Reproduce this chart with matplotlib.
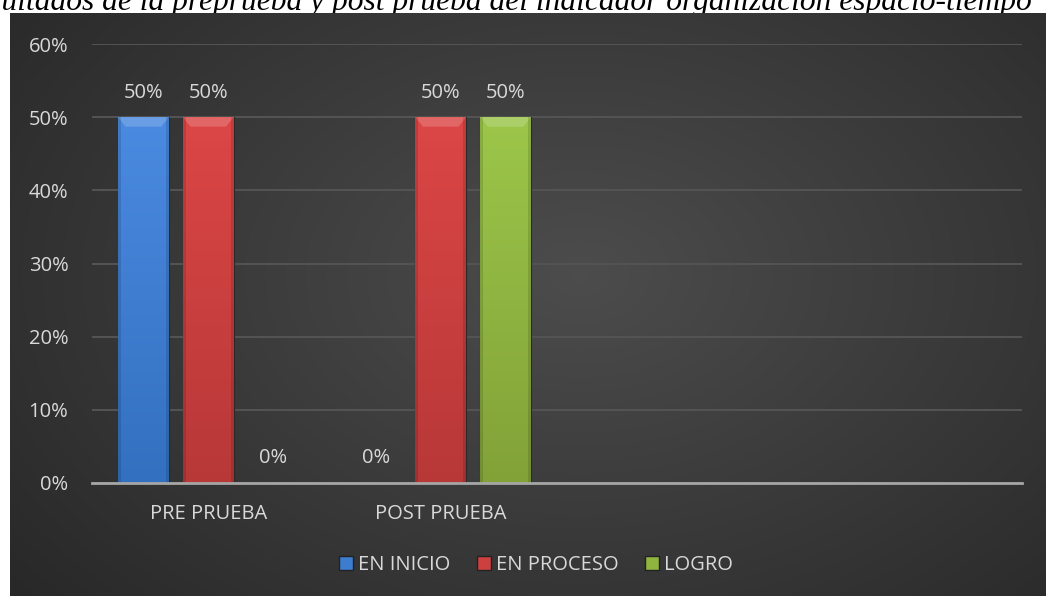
import numpy as np
import matplotlib
matplotlib.use("Agg")
import matplotlib.pyplot as plt
from matplotlib.patches import Patch
from matplotlib.ticker import PercentFormatter

# ---- data ----
categories = ["PRE PRUEBA", "POST PRUEBA", "", ""]
series_names = ["EN INICIO", "EN PROCESO", "LOGRO"]
en_inicio = [0.50, 0.0, None, None]
en_proceso = [0.50, 0.50, None, None]
logro = [0.0, 0.50, None, None]
yticks = [0, 0.1, 0.2, 0.3, 0.4, 0.5, 0.6]
title = "Resultados de la preprueba y post prueba del indicador organización espacio-tiempo"

colors_top = ["#4a8ae0", "#dc4646", "#9cc64a"]
colors_bot = ["#3370c0", "#b83838", "#82a238"]
colors_mid = ["#3d7dd0", "#cc4040", "#8fb440"]

W, H = 1046, 596
fig = plt.figure(figsize=(W / 100, H / 100), dpi=100)
fig.patch.set_facecolor("white")

# title (partly cut off at left/top and under chart area)
serif_fam = ["Liberation Serif", "DejaVu Serif"]
renderer = fig.canvas.get_renderer()
tkw = dict(fontstyle="italic", family=serif_fam, fontsize=10)
t_full = fig.text(0, 0, title, **tkw)
t_pre = fig.text(0, 0, "Res", **tkw)
w_full = t_full.get_window_extent(renderer).width
w_pre = t_pre.get_window_extent(renderer).width
t_full.remove()
t_pre.remove()
tsize = 10 * 1032 / (w_full - w_pre * 1.05)
fig.text(1032 / W, 1 - 10 / H, title, ha="right", va="baseline",
         fontsize=tsize, fontstyle="italic",
         family=serif_fam, color="black", zorder=-5)

# background chart area with radial gradient
bg = fig.add_axes([10 / W, 0, 1 - 10 / W, (H - 13) / H], zorder=0)
bg.set_axis_off()
yy, xx = np.mgrid[0:1:300j, 0:1:500j]
r = np.sqrt(((xx - 0.55) / 0.75) ** 2 + ((yy - 0.45) / 0.9) ** 2)
val = 0.30 - 0.15 * np.clip(r, 0, 1)
img = np.dstack([val, val, val])
bg.imshow(img, aspect="auto", extent=[0, 1, 0, 1], interpolation="bilinear")
bg.set_xlim(0, 1)
bg.set_ylim(0, 1)

ax = fig.add_axes([92 / W, (H - 483) / H, 930 / W, 439 / H], zorder=1)
ax.patch.set_alpha(0)

x = np.arange(len(categories))
bw = 51 / 233
step = 65 / 233
all_series = [en_inicio, en_proceso, logro]
for i, (name, s) in enumerate(zip(series_names, all_series)):
    vals = [np.nan if v is None else v for v in s]
    pos = x + (i - 1) * step
    bars = ax.bar(pos, vals, width=bw, color=colors_mid[i], edgecolor="#2a2a2a",
                  linewidth=0.8, zorder=3, label=name)
    for b, v in zip(bars, vals):
        if np.isnan(v):
            continue
        if v > 0:
            x0, y0 = b.get_x(), b.get_y()
            w, h = b.get_width(), b.get_height()
            grad = np.linspace(0, 1, 100)[:, None]
            c1 = np.array(matplotlib.colors.to_rgb(colors_bot[i]))
            c2 = np.array(matplotlib.colors.to_rgb(colors_top[i]))
            gimg = c1[None, None, :] * (1 - grad[..., None]) + c2[None, None, :] * grad[..., None]
            gimg = np.repeat(gimg, 2, axis=1)
            im = ax.imshow(gimg, extent=[x0, x0 + w, y0, y0 + h], origin="lower",
                           aspect="auto", zorder=3.5, interpolation="bilinear")
            im.set_clip_path(b)
            # top bevel highlight
            ax.fill([x0, x0 + w, x0 + w * 0.85, x0 + w * 0.15],
                    [y0 + h, y0 + h, y0 + h - 0.013, y0 + h - 0.013],
                    color="white", alpha=0.18, zorder=4, lw=0)
            # darker side edges
            ax.fill([x0, x0 + w * 0.06, x0 + w * 0.06, x0],
                    [y0, y0, y0 + h, y0 + h], color="black", alpha=0.12, zorder=4, lw=0)
            ax.fill([x0 + w * 0.94, x0 + w, x0 + w, x0 + w * 0.94],
                    [y0, y0, y0 + h, y0 + h], color="black", alpha=0.12, zorder=4, lw=0)
        ax.text(b.get_x() + b.get_width() / 2, v + 0.02, f"{v:.0%}",
                ha="center", va="bottom", color="#d9d9d9", fontsize=14.5,
                family="Open Sans", zorder=5)

ax.set_xlim(-0.5, len(categories) - 0.5)
ax.set_ylim(0, 0.6)
ax.set_yticks(yticks)
ax.yaxis.set_major_formatter(PercentFormatter(1.0, decimals=0))
ax.set_xticks(x)
ax.set_xticklabels(categories)
ax.tick_params(axis="both", length=0, colors="#d9d9d9", labelsize=14.5)
ax.tick_params(axis="y", pad=17)
ax.tick_params(axis="x", pad=15)
for lab in ax.get_xticklabels() + ax.get_yticklabels():
    lab.set_family("Open Sans")
ax.grid(axis="y", color="#545454", linewidth=1.4, zorder=0)
ax.set_axisbelow(True)
for sp in ["top", "right", "left"]:
    ax.spines[sp].set_visible(False)
ax.spines["bottom"].set_color("#a6a6a6")
ax.spines["bottom"].set_linewidth(2)
ax.spines["bottom"].set_zorder(6)

handles = [Patch(facecolor=colors_mid[i], edgecolor="#222222", label=series_names[i])
           for i in range(3)]
leg = fig.legend(handles=handles, loc="center", bbox_to_anchor=(536 / W, 1 - 565 / H),
                 ncol=3, frameon=False, handlelength=0.72, handleheight=0.72,
                 handletextpad=0.25, columnspacing=1.3,
                 prop={"family": "Open Sans", "size": 14.5})
for t in leg.get_texts():
    t.set_color("#d9d9d9")

fig.savefig("out.png", dpi=100)
